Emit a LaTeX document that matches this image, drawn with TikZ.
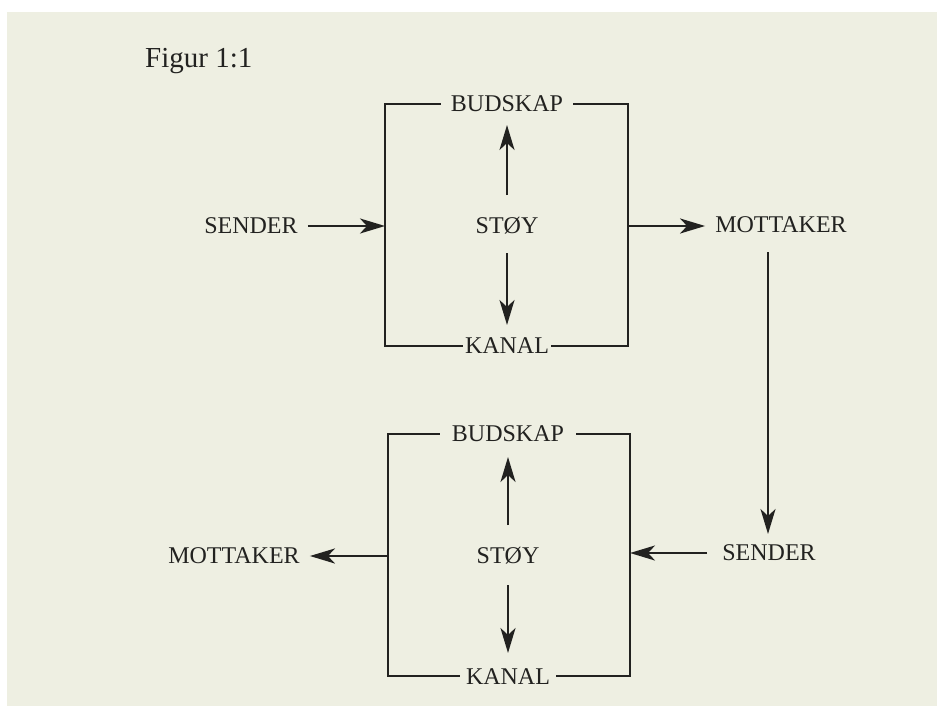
\documentclass[tikz,border=0pt]{standalone}
\usepackage{fontspec}
\setmainfont{Liberation Serif}
\usetikzlibrary{arrows.meta,calc}
\definecolor{paper}{RGB}{238,239,226}
\definecolor{ink}{RGB}{34,34,32}
\begin{document}
\begin{tikzpicture}[x=1pt,y=-1pt,
  lbl/.style={font=\fontsize{24}{26}\selectfont, text=ink, inner sep=0pt},
  wire/.style={draw=ink, line width=2.5pt, line join=miter},
  arr/.style={wire, -{Stealth[length=25pt,width=15pt,inset=7pt]}}]
\fill[white] (0,0) rectangle (937,706);
\fill[paper] (7,12) rectangle (937,706);
\useasboundingbox (0,0) rectangle (937,706);

\node[font=\fontsize{29}{32}\selectfont, text=ink, inner sep=0pt, anchor=base west] (fig) at (145,68) {Figur 1:1};

% ---------- top block ----------
\node[lbl, inner xsep=10pt] (bud1) at (507,104) {BUDSKAP};
\node[lbl, inner xsep=2pt] (kan1) at (507,346) {KANAL};
\node[lbl] (stoy1) at (507,226) {STØY};
\node[lbl] (send1) at (251,226) {SENDER};
\node[lbl] (mot1) at (781,225) {MOTTAKER};

\coordinate (tl1) at (385,104);
\coordinate (bl1) at (385,346);
\coordinate (tr1) at (628,104);
\coordinate (br1) at (628,346);
\coordinate (in1) at (385,226);
\coordinate (out1) at (628,226);

\draw[wire] (bud1.west) -- (tl1) -- (bl1) -- (kan1.west);
\draw[wire] (bud1.east) -- (tr1) -- (br1) -- (kan1.east);
\draw[arr] ($(stoy1)+(0,-31)$) -- ($(stoy1 |- bud1)+(0,21)$);
\draw[arr] ($(stoy1)+(0,27)$) -- ($(stoy1 |- kan1)+(0,-21)$);
\draw[arr] ($(send1.east)+(10,0)$) -- (in1);
\draw[arr] (out1) -- ($(mot1.west |- out1)+(-10,0)$);

% ---------- connector between blocks ----------
\node[lbl] (send2) at (769,553) {SENDER};
\coordinate (v1) at (768,252);
\coordinate (v2) at (768,534);
\draw[arr] (v1) -- (v2);

% ---------- bottom block ----------
\node[lbl, inner xsep=12pt] (bud2) at (508,434) {BUDSKAP};
\node[lbl, inner xsep=6pt] (kan2) at (508,677) {KANAL};
\node[lbl] (stoy2) at (508,556) {STØY};
\node[lbl] (mot2) at (234,556) {MOTTAKER};

\coordinate (tl2) at (388,434);
\coordinate (bl2) at (388,676);
\coordinate (tr2) at (630,434);
\coordinate (br2) at (630,676);
\coordinate (in2) at (630,553);
\coordinate (out2) at (388,556);

\draw[wire] (bud2.west) -- (tl2) -- (bl2) -- (kan2.west |- bl2);
\draw[wire] (bud2.east) -- (tr2) -- (br2) -- (kan2.east |- br2);
\draw[arr] ($(stoy2)+(0,-31)$) -- ($(stoy2 |- bud2)+(0,23)$);
\draw[arr] ($(stoy2)+(0,29)$) -- ($(stoy2 |- kan2)+(0,-24)$);
\draw[arr] ($(send2.west |- in2)+(-15,0)$) -- (in2);
\draw[arr] (out2) -- ($(mot2.east |- out2)+(10,0)$);
\end{tikzpicture}
\end{document}
